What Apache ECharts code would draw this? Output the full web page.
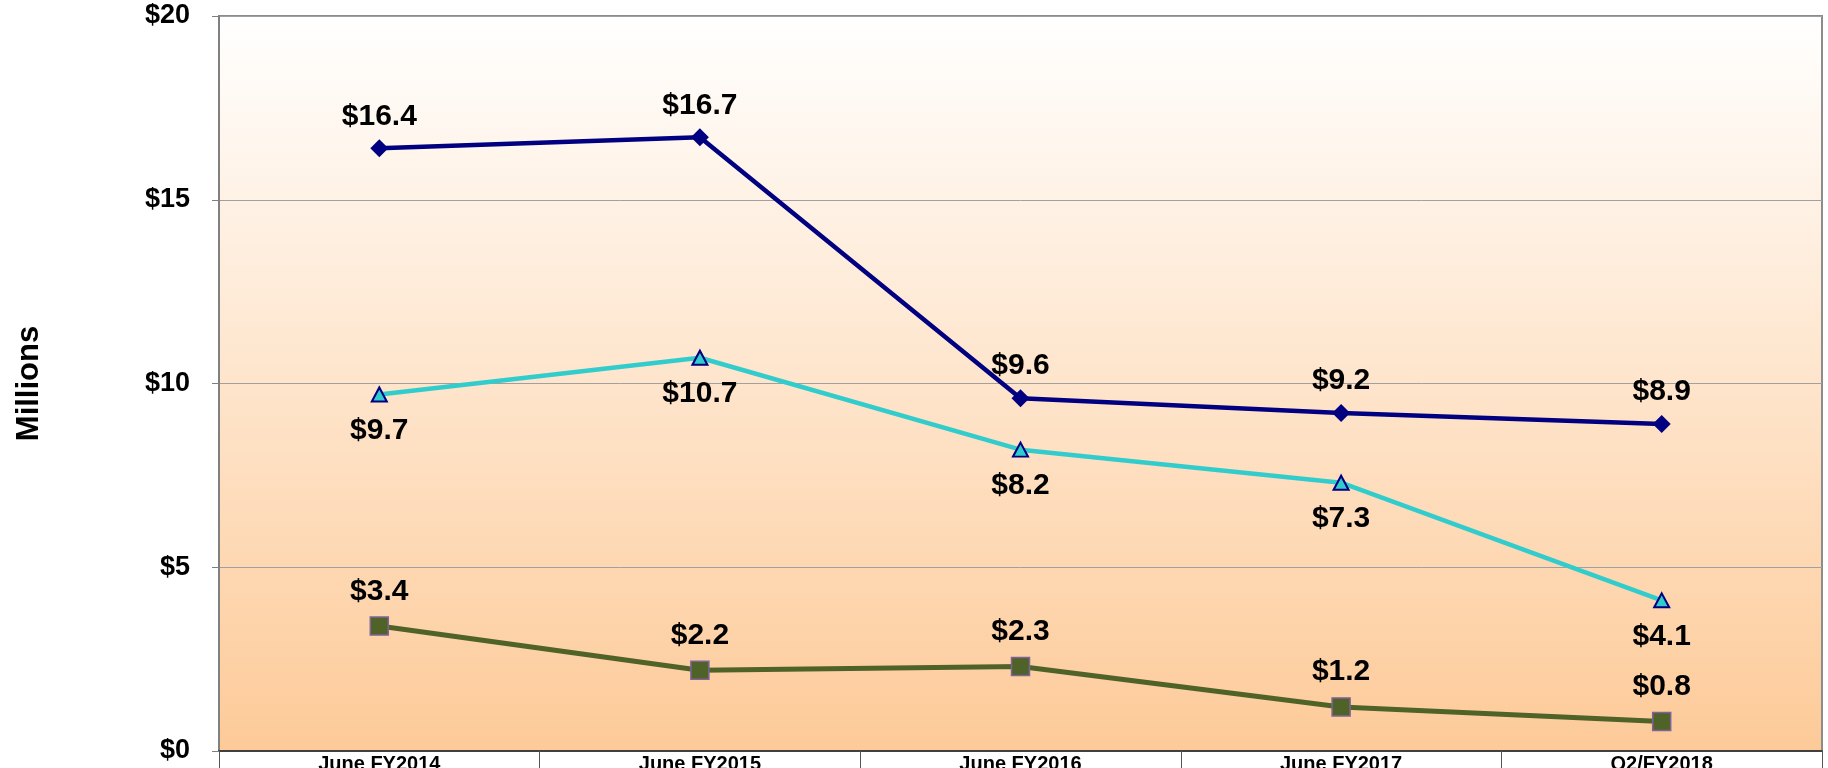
<!DOCTYPE html>
<html>
<head>
<meta charset="utf-8">
<style>
    html, body { margin: 0; padding: 0; background: #fff; }
    #chart { width: 1828px; height: 768px; }
</style>
<script src="https://cdn.jsdelivr.net/npm/echarts@6/dist/echarts.min.js"></script>
</head>
<body>
<div id="chart"></div>
<script>
// chart data
var categories = ['June FY2014', 'June FY2015', 'June FY2016', 'June FY2017', 'Q2/FY2018'];
var navyValues = [16.4, 16.7, 9.6, 9.2, 8.9];
var cyanValues = [9.7, 10.7, 8.2, 7.3, 4.1];
var oliveValues = [3.4, 2.2, 2.3, 1.2, 0.8];
var yTicks = [0, 5, 10, 15, 20];

var font = 'Arial, "Liberation Sans", sans-serif';
var myChart = echarts.init(document.getElementById('chart'));

function money(v) {
    return '$' + v.toFixed(1);
}

var option = {
    animation: false,
    grid: {
        left: 219,
        right: 6,
        top: 16,
        bottom: 17,
        containLabel: false,
        outerBoundsMode: 'none',
        show: true,
        borderColor: '#8c8c8c',
        borderWidth: 2,
        backgroundColor: new echarts.graphic.LinearGradient(0, 0, 0, 1, [
            {offset: 0, color: '#ffffff'},
            {offset: 1, color: '#fdca98'}
        ])
    },
    xAxis: {
        type: 'category',
        data: categories,
        boundaryGap: true,
        axisLine: {
            show: true,
            lineStyle: {color: '#404040', width: 2}
        },
        axisTick: {
            show: true,
            length: 20,
            lineStyle: {color: '#555555', width: 1}
        },
        axisLabel: {
            margin: 3,
            fontSize: 20,
            fontWeight: 'bold',
            fontFamily: font,
            color: '#000'
        }
    },
    yAxis: {
        type: 'value',
        min: yTicks[0],
        max: yTicks[yTicks.length - 1],
        interval: 5,
        name: 'Millions',
        nameLocation: 'middle',
        nameRotate: 90,
        nameGap: 174,
        nameTextStyle: {
            fontSize: 31,
            fontWeight: 'bold',
            fontFamily: font,
            color: '#000'
        },
        axisLine: {
            show: true,
            lineStyle: {color: '#808080', width: 2}
        },
        axisTick: {
            show: true,
            length: 7,
            lineStyle: {color: '#808080'}
        },
        splitLine: {
            show: true,
            lineStyle: {color: '#a0a0a0', width: 1}
        },
        axisLabel: {
            margin: 29,
            fontSize: 27,
            fontWeight: 'bold',
            fontFamily: font,
            color: '#000',
            formatter: function (v) { return '$' + v; }
        }
    },
    series: [
        {
            type: 'line',
            data: oliveValues,
            symbol: 'rect',
            symbolSize: 18,
            lineStyle: {color: '#4f6228', width: 5},
            itemStyle: {color: '#4f6228', borderColor: '#7f6399', borderWidth: 1.5},
            label: {
                show: true,
                position: 'top',
                distance: 10,
                fontSize: 30,
                fontWeight: 'bold',
                fontFamily: font,
                color: '#000',
                formatter: function (p) { return money(p.value); }
            },
            z: 3
        },
        {
            type: 'line',
            data: cyanValues,
            symbol: 'triangle',
            symbolSize: [15, 14],
            lineStyle: {color: '#33cccc', width: 4.5},
            itemStyle: {color: '#33cccc', borderColor: '#000080', borderWidth: 2},
            label: {
                show: true,
                position: 'bottom',
                distance: 13,
                fontSize: 30,
                fontWeight: 'bold',
                fontFamily: font,
                color: '#000',
                formatter: function (p) { return money(p.value); }
            },
            z: 4
        },
        {
            type: 'line',
            data: navyValues,
            symbol: 'diamond',
            symbolSize: 18,
            lineStyle: {color: '#000080', width: 4.5},
            itemStyle: {color: '#000080', borderWidth: 0},
            label: {
                show: true,
                position: 'top',
                distance: 8,
                fontSize: 30,
                fontWeight: 'bold',
                fontFamily: font,
                color: '#000',
                formatter: function (p) { return money(p.value); }
            },
            z: 5
        }
    ]
};
myChart.setOption(option);
</script>
</body>
</html>
